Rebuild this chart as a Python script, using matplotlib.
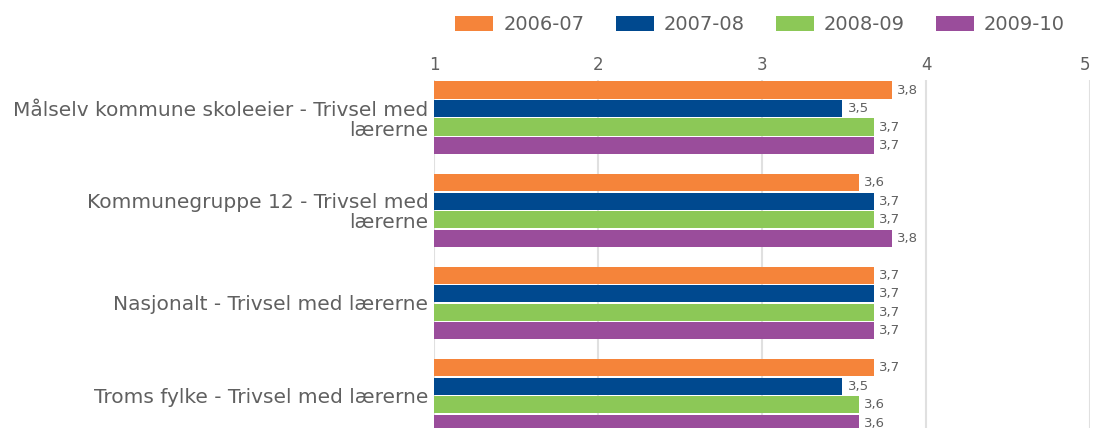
import os
import numpy as np
import matplotlib
matplotlib.use("Agg")
import matplotlib.pyplot as plt
from matplotlib import font_manager as fm

# use the DejaVu file shipped with matplotlib (Verdana-like look)
dv = os.path.join(matplotlib.get_data_path(), "fonts", "ttf", "DejaVuSans.ttf")
fm.fontManager.addfont(dv)
plt.rcParams["font.family"] = ["DejaVu Sans"]

categories = ["Målselv kommune skoleeier - Trivsel med\nlærerne",
              "Kommunegruppe 12 - Trivsel med\nlærerne",
              "Nasjonalt - Trivsel med lærerne",
              "Troms fylke - Trivsel med lærerne"]
years = ["2006-07", "2007-08", "2008-09", "2009-10"]
v2006 = [3.79, 3.59, 3.68, 3.68]
v2007 = [3.49, 3.68, 3.68, 3.49]
v2008 = [3.68, 3.68, 3.68, 3.59]
v2009 = [3.68, 3.79, 3.68, 3.59]
series = [v2006, v2007, v2008, v2009]
colors = ["#F5843A", "#00498F", "#8CC857", "#9A4D9B"]

fig = plt.figure(figsize=(10.93, 4.28), dpi=100)
ax = fig.add_axes([434 / 1093, 0, 656 / 1093, 1 - 80 / 428])

y = np.arange(len(categories))
h = 0.185
txt = "#606060"
for k, (vals, col, lab) in enumerate(zip(series, colors, years)):
    pos = y - 0.3 + 0.2 * k
    ax.barh(pos, np.array(vals) - 1, left=1, height=h, color=col,
            label=lab, zorder=3)
    for yy, v in zip(pos, vals):
        ax.annotate(f"{v:.1f}".replace(".", ","), (v, yy), xytext=(4, 0),
                    textcoords="offset points", va="center", ha="left",
                    fontsize=9.5, color=txt, annotation_clip=False)

ax.set_xlim(1, 5)
ax.set_ylim(3.35, -0.408)
ax.set_xticks([1, 2, 3, 4, 5])
ax.xaxis.tick_top()
ax.tick_params(axis="x", length=0, pad=4, labelsize=12, labelcolor=txt)
ax.get_xticklabels()[-1].set_horizontalalignment("right")
ax.set_yticks(y)
ax.set_yticklabels(categories, fontsize=14.5, color=txt, linespacing=1.05)
ax.tick_params(axis="y", length=0, pad=4)
ax.grid(axis="x", color="#e0e0e0", linewidth=1.5, zorder=0)
for s in ax.spines.values():
    s.set_visible(False)

fs = 14
px = fs * 100 / 72
fig.legend(loc="center", bbox_to_anchor=(760 / 1093, 1 - 25 / 428), ncol=4,
           frameon=False, fontsize=fs, handlelength=38 / px,
           handleheight=15 / px, columnspacing=31 / px,
           handletextpad=10 / px, labelcolor=txt)

fig.savefig("out.png", dpi=100)
